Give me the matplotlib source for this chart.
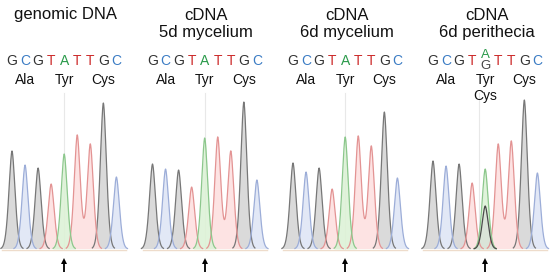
import numpy as np
import matplotlib
matplotlib.use("Agg")
import matplotlib.pyplot as plt

plt.rcParams['font.family'] = ['Liberation Sans', 'DejaVu Sans']

# ---- data ----
bases = ["G", "C", "G", "T", "A", "T", "T", "G", "C"]
amino_acids = ["Ala", "Tyr", "Cys"]
titles = ["genomic DNA", "cDNA\n5d mycelium", "cDNA\n6d mycelium", "cDNA\n6d perithecia"]
heights_genomic = [98, 84, 81, 65, 95, 114, 105, 146, 72]
heights_5d = [85, 80, 79, 62, 111, 112, 98, 147, 69]
heights_6d = [86, 77, 81, 60, 112, 113, 103, 137, 71]
heights_peri = [88, 83, 85, 66, 80, 105, 108, 149, 76]
peri_extra_base = "G"      # secondary call at position 5 in perithecia
peri_extra_height = 43
panel_heights = [heights_genomic, heights_5d, heights_6d, heights_peri]
marker_pos = [4, 4, 4, 3.55]  # faint cursor line position (base index)

# ---- styles ----
fill_col = {"G": "#d6d6d6", "C": "#dfe6f5", "T": "#fde0e0", "A": "#ddf2d7"}
edge_col = {"G": "#777777", "C": "#9cadd8", "T": "#e39393", "A": "#8cc78c"}
text_col = {"G": "#333333", "C": "#3b7cc4", "T": "#cc2a2a", "A": "#2a9a4a"}

W, H = 550, 276
fig = plt.figure(figsize=(W / 100, H / 100), dpi=100)

spacing = 13.05
first_peak = [12, 152.5, 293, 433]
baseline_px = 249


def peak(d, h):
    s = 0.34
    return h * np.exp(-(np.abs(d) / s) ** 1.75)


x = np.linspace(-1, 9, 1000)

for p in range(4):
    left_px = first_peak[p] - spacing
    ax = fig.add_axes([left_px / W, 0, 10 * spacing / W, 1])
    ax.set_xlim(-1, 9)
    ax.set_ylim(baseline_px - H, baseline_px)
    ax.axis("off")
    hs = panel_heights[p]
    peaks = [(i, b, h) for i, (b, h) in enumerate(zip(bases, hs))]
    # cursor line
    ax.plot([marker_pos[p], marker_pos[p]], [0, 156], color="#e8e8e8", lw=0.8, zorder=0)
    # baseline
    ax.plot([-0.75, 8.75], [-0.5, -0.5], color="#eedccb", lw=1.0, zorder=0)
    groups = []
    for ch in ["G", "C", "T", "A"]:
        groups.append((ch, [(i, h) for (i, b, h) in peaks if b == ch], False))
    if p == 3:
        groups.append((peri_extra_base, [(4, peri_extra_height)], True))
    for base, sel, extra in groups:
        y = np.zeros_like(x)
        mask = np.zeros_like(x, dtype=bool)
        for i, h in sel:
            y += peak(x - i, h)
            mask |= np.abs(x - i) < 0.85
        yy = np.where(mask, y, np.nan)
        alpha = 0.5 if extra else 0.9
        ax.fill_between(x, 0, y, where=mask, color=fill_col[base], alpha=alpha, lw=0, zorder=1)
        ax.plot(x, yy, color="#4a4a4a" if extra else edge_col[base], lw=0.9, zorder=2)
    # sequence text
    for i, b in enumerate(bases):
        if p == 3 and i == 4:
            ax.text(i, baseline_px - 55, "A", color=text_col["A"], fontsize=9.5,
                    ha="center", va="center", clip_on=False)
            ax.text(i, baseline_px - 66, "G", color="#444444", fontsize=9.5,
                    ha="center", va="center", clip_on=False)
        else:
            ax.text(i, baseline_px - 61, b, color=text_col[b], fontsize=10,
                    ha="center", va="center", clip_on=False)
    for k, aa in enumerate(amino_acids):
        ax.text(3 * k + 1, baseline_px - 80, aa, color="#111111", fontsize=10,
                ha="center", va="center", clip_on=False)
    if p == 3:
        ax.text(4, baseline_px - 96, "Cys", color="#111111", fontsize=10,
                ha="center", va="center", clip_on=False)
    # title
    ax.text(4.1, baseline_px - 15 if p == 0 else baseline_px - 24, titles[p],
            color="#111111", fontsize=12, ha="center", va="center",
            linespacing=1.25, clip_on=False)
    # arrow
    ax.plot([4, 4], [-23, -13], color="black", lw=1.3, solid_capstyle="butt")
    ax.plot([4], [-11.5], marker="^", markersize=5, color="black", mew=0)

fig.savefig("out.png", dpi=100)
